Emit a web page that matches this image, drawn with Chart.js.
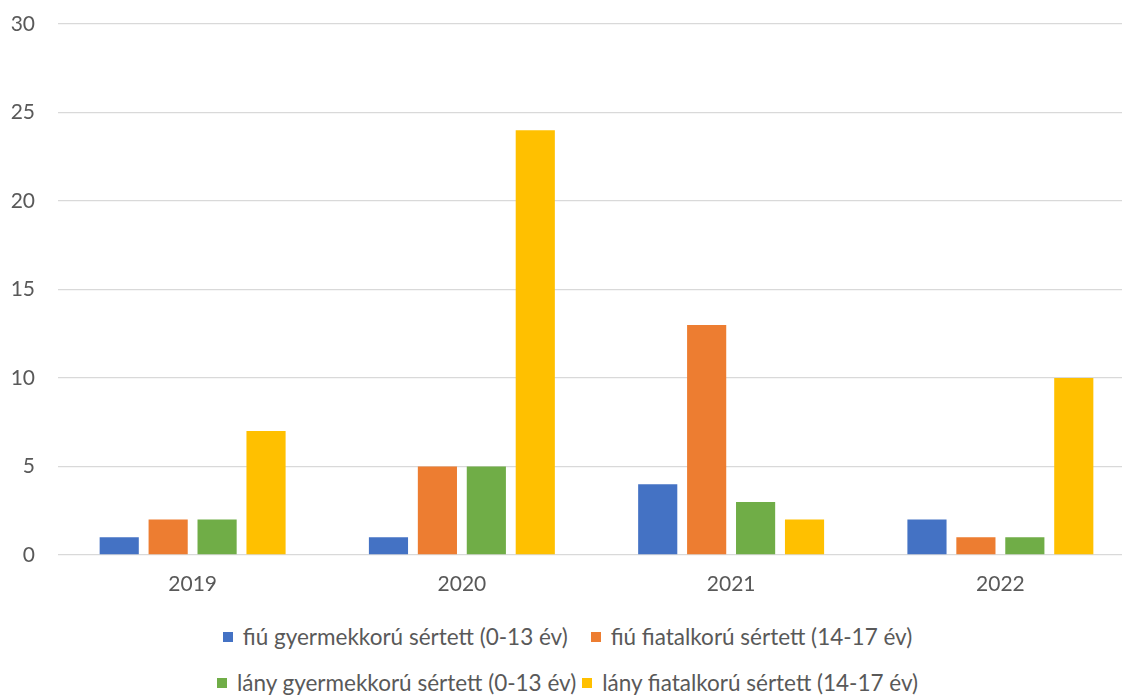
<!DOCTYPE html>
<html>
<head>
<meta charset="utf-8">
<script src="https://cdn.jsdelivr.net/npm/chart.js@4.4.1/dist/chart.umd.min.js"></script>
<style>
  html, body { margin: 0; padding: 0; background: #fff; overflow: hidden; }
  body { width: 1122px; height: 696px; }
  #wrap { position: relative; width: 1135px; height: 696px; }
  #chartBox { position: absolute; left: 0; top: 0; width: 1135px; height: 610px; }
  .legend { position: absolute; left: 0; width: 1135px; display: flex; justify-content: center;
            font-family: Lato, "Open Sans", sans-serif; font-size: 22.5px; color: #595959; line-height: 26px; }
  .item { display: flex; align-items: center; white-space: nowrap; }
  .swatch { width: 10px; height: 10px; margin-right: 10px; }
</style>
</head>
<body>
<div id="wrap">
  <div id="chartBox"><canvas id="c" width="1135" height="610"></canvas></div>
  <div class="legend" id="row1" style="top:624px; gap:23px;"></div>
  <div class="legend" id="row2" style="top:670px; gap:6px;"></div>
</div>
<script>
// Years on the category axis
const years = ['2019', '2020', '2021', '2022'];

// Victims by sex and age group
const boyChild   = [1, 1, 4, 2];   // fiú gyermekkorú sértett (0-13 év)
const boyYouth   = [2, 5, 13, 1];  // fiú fiatalkorú sértett (14-17 év)
const girlChild  = [2, 5, 3, 1];   // lány gyermekkorú sértett (0-13 év)
const girlYouth  = [7, 24, 2, 10]; // lány fiatalkorú sértett (14-17 év)

const seriesNames = [
  'fiú gyermekkorú sértett (0-13 év)',
  'fiú fiatalkorú sértett (14-17 év)',
  'lány gyermekkorú sértett (0-13 év)',
  'lány fiatalkorú sértett (14-17 év)'
];
const seriesColors = ['#4472C4', '#ED7D31', '#70AD47', '#FFC000'];

// Y axis range
const yMin = 0, yMax = 30, yStep = 5;

const seriesData = [boyChild, boyYouth, girlChild, girlYouth];

const datasets = seriesData.map((d, i) => ({
  label: seriesNames[i],
  data: d,
  backgroundColor: seriesColors[i],
  borderWidth: 0,
  categoryPercentage: 0.727,
  barPercentage: 0.8
}));

const fontFamily = 'Lato, "Open Sans", sans-serif';

new Chart(document.getElementById('c'), {
  type: 'bar',
  data: { labels: years, datasets },
  options: {
    responsive: false,
    animation: false,
    layout: { padding: { top: 24, right: 0, bottom: 0, left: 0 } },
    plugins: { legend: { display: false }, tooltip: { enabled: false } },
    scales: {
      x: {
        grid: { display: false, drawTicks: false },
        border: { display: false },
        ticks: { color: '#595959', font: { family: fontFamily, size: 21 }, padding: 17 },
        afterFit(scale) { scale.height = 55; }
      },
      y: {
        min: yMin, max: yMax,
        grid: { color: '#d9d9d9', lineWidth: 1.3, drawTicks: false },
        border: { display: false },
        ticks: { stepSize: yStep, color: '#595959', font: { family: fontFamily, size: 21 }, padding: 23 },
        afterFit(scale) {
          scale.width = 58;
          // the outer label gap is handled by layout padding
          scale.paddingTop = 0;
          scale.paddingBottom = 0;
        }
      }
    }
  }
});

// Two-row legend beneath the plot
function addItem(rowId, i) {
  const row = document.getElementById(rowId);
  const item = document.createElement('div');
  item.className = 'item';
  const sw = document.createElement('span');
  sw.className = 'swatch';
  sw.style.background = seriesColors[i];
  const tx = document.createElement('span');
  tx.textContent = seriesNames[i];
  item.appendChild(sw);
  item.appendChild(tx);
  row.appendChild(item);
}
addItem('row1', 0); addItem('row1', 1);
addItem('row2', 2); addItem('row2', 3);
</script>
</body>
</html>
